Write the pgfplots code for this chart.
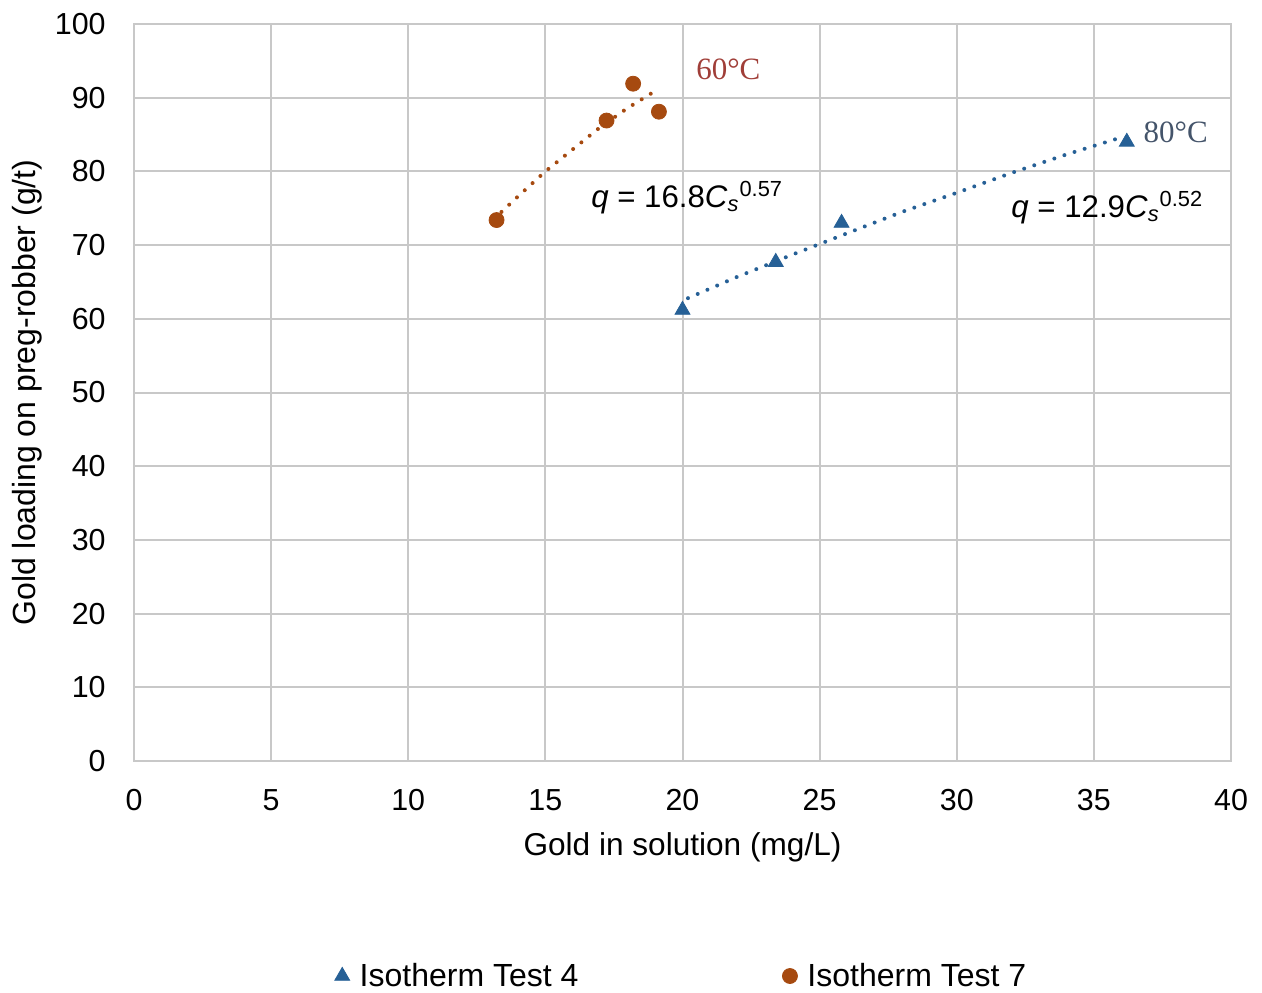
\documentclass[border=0pt]{standalone}
\usepackage{pgfplots}
\pgfplotsset{compat=1.18}
\usepackage{fontspec}
\setmainfont{Liberation Sans}
\newfontfamily\seriffont{Liberation Serif}
\definecolor{blueT}{RGB}{38,96,150}
\definecolor{orangeT}{RGB}{166,74,16}
\definecolor{redlab}{RGB}{160,62,56}
\definecolor{graylab}{RGB}{68,84,106}
\definecolor{gridc}{RGB}{200,200,200}
\begin{document}
\begin{tikzpicture}
\path[use as bounding box] (-67pt,-115.5pt) rectangle (564pt,380.5pt);
\begin{axis}[
  scale only axis, width=548.5pt, height=368.5pt,
  at={(0pt,0pt)}, anchor=south west,
  xmin=0, xmax=40, ymin=0, ymax=100,
  xtick={0,5,...,40}, ytick={0,10,...,100},
  grid=major, major grid style={gridc, line width=1pt},
  axis line style={gridc, line width=1pt},
  major tick length=0pt,
  /pgf/number format/assume math mode=true,
  tick label style={font=\fontsize{15.2}{18}\selectfont, text=black},
  xticklabel style={anchor=center, yshift=-19.5pt},
  yticklabel style={anchor=east, inner sep=0pt, xshift=-14pt},
  xlabel={Gold in solution (mg/L)},
  ylabel={Gold loading on preg-robber (g/t)},
  every axis x label/.style={at={(axis description cs:0.5,0)}, yshift=-43pt, anchor=center, font=\fontsize{15.8}{18}\selectfont},
  every axis y label/.style={at={(axis description cs:0,0.5)}, xshift=-53.5pt, rotate=90, anchor=center, font=\fontsize{16}{18}\selectfont},
  legend style={at={(axis description cs:0.5,0)}, yshift=-107.5pt, anchor=center, draw=none, fill=none,
    font=\fontsize{16}{18}\selectfont,
    /tikz/every odd column/.append style={column sep=3pt},
    /tikz/every even column/.append style={column sep=100pt}},
  legend columns=2,
  legend cell align=left,
  legend image code/.code={\draw[#1] plot coordinates {(0pt,0pt)};},
]
\addplot[only marks, mark=triangle*, mark size=4.3pt, color=blueT] coordinates {
(20.0,61.2) (23.4,67.7) (25.8,73.0) (36.2,84.0)};
\addlegendentry{Isotherm Test 4}
\addplot[only marks, mark=*, mark size=3.75pt, color=orangeT] coordinates {
(13.22,73.4) (17.23,86.9) (18.2,91.9) (19.14,88.1)};
\addlegendentry{Isotherm Test 7}
% power trendlines
\addplot[forget plot, blueT, line width=2pt, line cap=round, dash pattern=on 0pt off 5.3pt] coordinates {
(20.2,62.8) (22,65.7) (24,68.7) (26,71.6) (28,74.5) (30,77.1) (32,79.8) (34,82.3) (35.9,84.5)};
\addplot[forget plot, orangeT, line width=2pt, line cap=round, dash pattern=on 0pt off 5.3pt] coordinates {
(13.4,74.5) (14,76.6) (15,80.0) (16,83.0) (17,86.0) (18,88.6) (19.0,90.9)};
\node[anchor=base west, inner sep=0pt, text=redlab, font=\seriffont\fontsize{15.5}{18}\selectfont] at (axis cs:20.49,92.47) {60°C};
\node[anchor=base west, inner sep=0pt, text=graylab, font=\seriffont\fontsize{15.5}{18}\selectfont] at (axis cs:36.8,83.93) {80°C};
\node[anchor=base west, inner sep=0pt, font=\fontsize{15.6}{18}\selectfont] at (axis cs:16.66,75.17) {\textit{q} = 16.8\textit{C}\textsubscript{\textit{s}}\textsuperscript{0.57}};
\node[anchor=base west, inner sep=0pt, font=\fontsize{15.6}{18}\selectfont] at (axis cs:31.98,73.8) {\textit{q} = 12.9\textit{C}\textsubscript{\textit{s}}\textsuperscript{0.52}};
\end{axis}
\end{tikzpicture}
\end{document}
